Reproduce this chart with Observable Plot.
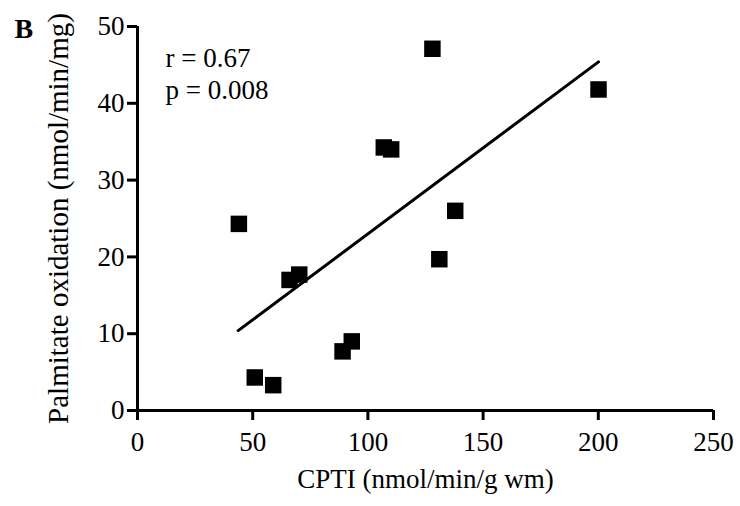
<!DOCTYPE html>
<html>
<head>
<meta charset="utf-8">
<script src="https://cdn.jsdelivr.net/npm/d3@7"></script>
<script src="https://cdn.jsdelivr.net/npm/@observablehq/plot@0.6"></script>
<style>
  html, body { margin: 0; padding: 0; background: #fff; }
</style>
</head>
<body>
<div id="chart"></div>
<script>
// CPTI activity (nmol/min/g wm)
const cpti = [44.0, 50.9, 58.9, 66.0, 70.2, 89.0, 93.0, 106.9, 110.1, 128.0, 131.0, 137.9, 200.1];
// Palmitate oxidation (nmol/min/mg)
const palmitate = [24.3, 4.3, 3.3, 17.0, 17.7, 7.7, 9.0, 34.25, 34.0, 47.1, 19.7, 26.0, 41.8];
// Regression line end points as drawn
const fitX = [43.7, 200.1];
const fitY = [10.4, 45.4];
const xTicks = [0, 50, 100, 150, 200, 250];
const yTicks = [0, 10, 20, 30, 40, 50];
const stats = ["r = 0.67\np = 0.008"];
const panel = ["B"];
const xLabel = "CPTI (nmol/min/g wm)";
const yLabel = ["Palmitate oxidation (nmol/min/mg)"];

const points = cpti.map((x, i) => ({x, y: palmitate[i]}));
const fit = fitX.map((x, i) => ({x, y: fitY[i]}));

const chart = Plot.plot({
  width: 740,
  height: 506,
  marginLeft: 137,
  marginRight: 27,
  marginTop: 26,
  marginBottom: 96,
  style: {fontFamily: "'Liberation Serif', 'Times New Roman', serif", fontSize: "27px", color: "black", background: "white"},
  x: {domain: [0, 250]},
  y: {domain: [0, 50]},
  marks: [
    Plot.axisX({ticks: xTicks, tickSize: 10, tickPadding: 11, strokeWidth: 3, label: xLabel, labelAnchor: "center", labelArrow: "none", labelOffset: 77}),
    Plot.axisY({ticks: yTicks, tickSize: 10, tickPadding: 3, strokeWidth: 3, label: null}),
    Plot.text(yLabel, {frameAnchor: "left", rotate: -90, dx: -90, lineAnchor: "top", textAnchor: "middle", fontSize: 29}),
    Plot.ruleY([0], {stroke: "black", strokeWidth: 3}),
    Plot.ruleX([0], {stroke: "black", strokeWidth: 3}),
    Plot.line(fit, {x: "x", y: "y", stroke: "black", strokeWidth: 3}),
    Plot.dot(points, {x: "x", y: "y", symbol: "square", r: 9.3, fill: "black", stroke: "none"}),
    Plot.text(stats, {frameAnchor: "top-left", dx: 28, dy: 18, textAnchor: "start", lineAnchor: "top", lineHeight: 1.17, fontSize: 27}),
    Plot.text(panel, {frameAnchor: "top-left", dx: -123, dy: -8.5, textAnchor: "start", lineAnchor: "top", fontWeight: "bold", fontSize: 28})
  ]
});
document.getElementById("chart").append(chart);
</script>
</body>
</html>
